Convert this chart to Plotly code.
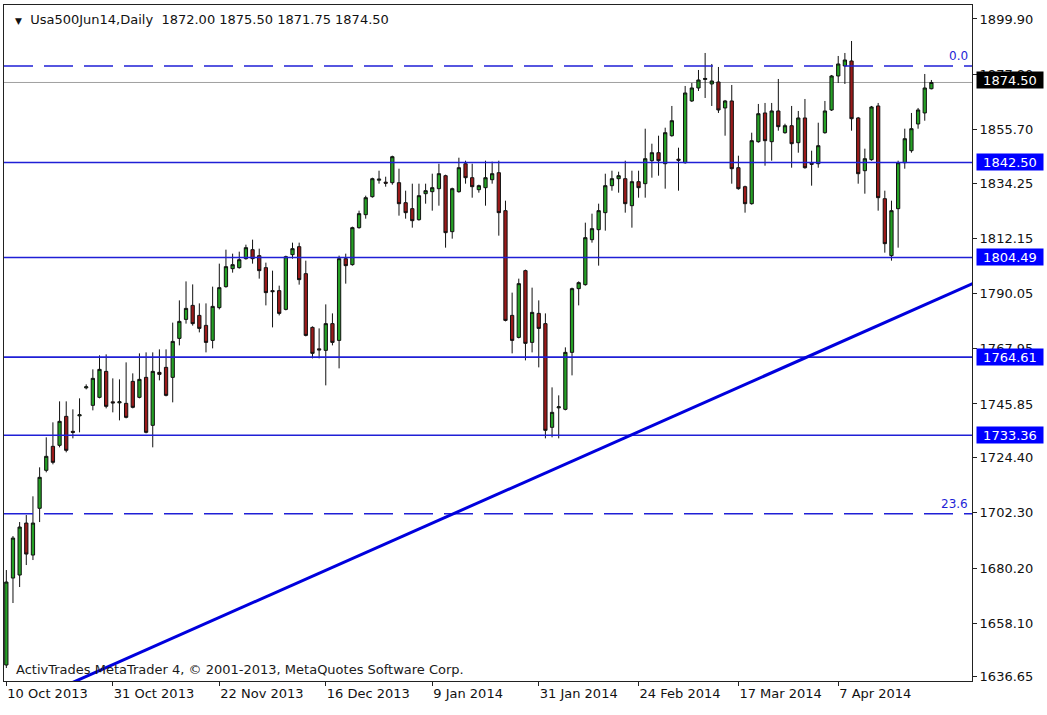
import plotly.graph_objects as go

# daily bars, Usa500Jun14 (index 0 = 10 Oct 2013)
opens = [1641.4, 1676.2, 1677.4, 1698.2, 1685.4, 1704.1, 1719.3, 1728.9, 1729.3, 1740.9,
         1734.9, 1741.1, 1752.3, 1745.3, 1748.5, 1758.9, 1746.7, 1746.3, 1746.1, 1754.9,
         1748.5, 1756.5, 1737.3, 1758.5, 1760.5, 1756.5, 1772.1, 1779.7, 1785.3, 1781.3,
         1777.3, 1771.3, 1784.4, 1792.8, 1800.0, 1800.4, 1804.0, 1807.6, 1805.2, 1800.4,
         1791.2, 1791.2, 1783.7, 1805.6, 1808.8, 1798.0, 1776.5, 1767.9, 1767.3, 1778.0,
         1771.3, 1804.0, 1801.6, 1816.4, 1821.6, 1828.8, 1835.4, 1834.6, 1834.4, 1834.4,
         1826.4, 1824.0, 1819.6, 1830.0, 1830.8, 1832.0, 1837.2, 1814.8, 1830.8, 1842.0,
         1836.4, 1831.6, 1832.4, 1835.6, 1838.4, 1823.2, 1781.3, 1772.5, 1799.2, 1770.5,
         1782.1, 1778.0, 1736.5, 1744.3, 1743.7, 1766.5, 1792.0, 1793.6, 1811.6, 1815.6,
         1822.4, 1833.2, 1836.0, 1836.0, 1825.2, 1834.8, 1834.0, 1843.2, 1846.4, 1842.0,
         1853.2, 1843.8, 1842.4, 1867.1, 1872.3, 1875.7, 1873.9, 1874.7, 1864.3, 1867.1,
         1840.4, 1832.8, 1826.0, 1850.8, 1862.3, 1850.8, 1863.1, 1854.4, 1857.2, 1850.4,
         1860.3, 1842.2, 1842.0, 1854.4, 1863.5, 1877.1, 1881.1, 1883.1, 1860.3, 1839.2,
         1843.6, 1865.1, 1828.0, 1805.2, 1824.0, 1842.4, 1847.2, 1857.9, 1862.3, 1872.00]
highs = [1679.4, 1693.0, 1698.6, 1701.4, 1708.9, 1720.5, 1732.5, 1738.5, 1746.9, 1746.9,
         1743.7, 1748.1, 1753.7, 1759.7, 1765.3, 1765.7, 1756.1, 1755.7, 1762.5, 1758.1,
         1766.1, 1766.5, 1766.5, 1767.7, 1767.7, 1778.4, 1787.3, 1794.9, 1793.7, 1786.1,
         1786.1, 1792.8, 1802.0, 1807.6, 1806.0, 1806.8, 1809.6, 1811.6, 1808.0, 1802.4,
         1799.2, 1793.2, 1805.2, 1810.4, 1810.4, 1803.2, 1776.9, 1776.1, 1785.7, 1782.1,
         1805.2, 1806.0, 1816.8, 1823.2, 1829.2, 1836.4, 1839.2, 1836.8, 1845.2, 1840.0,
         1831.2, 1834.0, 1834.0, 1834.0, 1838.0, 1842.0, 1837.6, 1832.4, 1844.4, 1843.2,
         1842.0, 1833.6, 1843.2, 1842.8, 1843.2, 1827.2, 1790.4, 1796.0, 1799.6, 1792.4,
         1787.3, 1782.1, 1752.5, 1749.3, 1768.5, 1792.4, 1794.9, 1818.4, 1822.0, 1826.0,
         1838.0, 1839.2, 1838.8, 1843.2, 1839.2, 1839.2, 1856.0, 1850.0, 1853.2, 1856.4,
         1865.1, 1848.4, 1873.1, 1874.3, 1879.5, 1886.3, 1881.9, 1880.7, 1867.5, 1873.5,
         1845.2, 1833.2, 1854.4, 1865.9, 1866.3, 1866.3, 1875.9, 1858.0, 1865.1, 1863.1,
         1867.9, 1847.2, 1858.4, 1867.1, 1877.5, 1885.1, 1886.3, 1891.1, 1860.7, 1848.0,
         1865.1, 1866.3, 1831.2, 1827.2, 1843.2, 1856.0, 1862.3, 1864.3, 1877.9, 1875.50]
lows = [1640.2, 1666.2, 1672.6, 1681.4, 1683.4, 1698.6, 1718.5, 1721.7, 1728.5, 1726.5,
        1732.1, 1734.5, 1751.7, 1743.3, 1748.1, 1744.1, 1742.5, 1739.3, 1740.1, 1744.1,
        1748.1, 1734.1, 1728.5, 1755.3, 1748.9, 1746.5, 1769.3, 1778.0, 1777.2, 1774.5,
        1766.5, 1768.1, 1783.7, 1792.4, 1798.4, 1800.0, 1803.6, 1802.0, 1796.0, 1785.3,
        1776.5, 1781.3, 1783.3, 1804.0, 1793.6, 1772.9, 1764.1, 1764.1, 1753.3, 1769.3,
        1760.1, 1794.0, 1801.2, 1816.0, 1820.0, 1828.4, 1834.0, 1832.8, 1833.6, 1821.2,
        1820.0, 1816.4, 1819.2, 1826.0, 1823.2, 1825.2, 1808.4, 1812.0, 1830.4, 1834.0,
        1828.4, 1830.4, 1825.2, 1834.0, 1813.2, 1778.9, 1766.1, 1772.1, 1763.3, 1766.5,
        1760.5, 1732.1, 1732.5, 1732.1, 1743.3, 1757.3, 1785.3, 1793.2, 1810.4, 1801.2,
        1815.2, 1831.2, 1830.4, 1822.4, 1816.4, 1828.4, 1828.4, 1836.4, 1837.2, 1832.0,
        1852.8, 1831.2, 1842.0, 1866.7, 1871.1, 1868.3, 1865.1, 1862.3, 1853.2, 1834.0,
        1831.6, 1822.4, 1825.6, 1850.4, 1841.2, 1843.2, 1855.2, 1854.0, 1840.4, 1846.4,
        1840.0, 1833.2, 1840.4, 1854.0, 1863.1, 1874.3, 1873.9, 1855.2, 1834.0, 1830.0,
        1843.2, 1823.2, 1806.4, 1803.2, 1808.4, 1840.0, 1846.4, 1856.0, 1859.2, 1871.75]
closes = [1674.6, 1692.2, 1696.6, 1685.8, 1698.2, 1716.5, 1724.9, 1722.5, 1738.9, 1727.3,
          1734.5, 1741.5, 1752.7, 1756.1, 1759.7, 1744.9, 1746.3, 1746.7, 1740.5, 1744.5,
          1755.7, 1734.5, 1758.9, 1757.7, 1749.3, 1770.9, 1778.9, 1784.1, 1778.0, 1776.1,
          1770.5, 1784.9, 1792.4, 1800.8, 1801.6, 1803.6, 1808.4, 1804.0, 1799.2, 1790.4,
          1790.8, 1782.1, 1804.8, 1808.0, 1795.6, 1773.3, 1766.1, 1767.5, 1778.0, 1770.5,
          1804.0, 1801.2, 1816.4, 1822.0, 1828.4, 1836.0, 1835.8, 1834.2, 1844.8, 1826.0,
          1822.4, 1819.2, 1829.2, 1831.2, 1832.4, 1838.0, 1814.4, 1832.0, 1840.4, 1836.4,
          1832.8, 1833.2, 1836.4, 1838.0, 1822.4, 1779.3, 1771.3, 1794.0, 1770.1, 1782.5,
          1776.1, 1735.3, 1742.5, 1744.7, 1766.5, 1792.0, 1794.4, 1812.4, 1816.0, 1823.2,
          1833.2, 1836.0, 1837.2, 1826.0, 1834.8, 1832.4, 1844.0, 1846.4, 1843.2, 1854.4,
          1859.2, 1843.4, 1870.3, 1872.3, 1875.5, 1876.1, 1875.1, 1863.5, 1867.1, 1840.0,
          1832.0, 1826.0, 1851.2, 1862.0, 1851.2, 1863.1, 1856.8, 1857.2, 1850.0, 1860.3,
          1840.4, 1841.8, 1849.2, 1863.1, 1877.1, 1881.9, 1883.5, 1860.0, 1838.0, 1844.0,
          1864.7, 1828.4, 1810.0, 1823.2, 1842.4, 1852.0, 1856.0, 1863.5, 1872.3, 1874.50]
bar_idx = list(range(len(opens)))

date_ticks = [0, 16, 32, 48, 64, 80, 95, 110, 125]
date_labels = ["10 Oct 2013", "31 Oct 2013", "22 Nov 2013", "16 Dec 2013", "9 Jan 2014",
               "31 Jan 2014", "24 Feb 2014", "17 Mar 2014", "7 Apr 2014"]
price_ticks = [1899.90, 1877.80, 1855.70, 1834.25, 1812.15, 1790.05, 1767.95,
               1745.85, 1724.40, 1702.30, 1680.20, 1658.10, 1636.65]

levels = [1842.50, 1804.49, 1764.61, 1733.36]
fib_levels = [1881.1, 1701.9]
fib_names = ["0.0", "23.6"]
last_price = 1874.50
trend_x = [9.69, 145.33]
trend_y = [1634.1, 1794.15]

FONT = "DejaVu Sans, Tahoma, sans-serif"
BLUE = "#1f1fd6"

fig = go.Figure(go.Candlestick(
    x=bar_idx, open=opens, high=highs, low=lows, close=closes,
    increasing=dict(fillcolor="#25a025", line=dict(color="#111111", width=1)),
    decreasing=dict(fillcolor="#9a1a1a", line=dict(color="#111111", width=1)),
    whiskerwidth=0, hoverinfo="skip",
))

shapes = []
for lv in levels:
    shapes.append(dict(type="line", xref="paper", x0=0, x1=1, yref="y", y0=lv, y1=lv,
                       line=dict(color=BLUE, width=1.6), layer="above"))
for lv in fib_levels:
    shapes.append(dict(type="line", xref="paper", x0=0, x1=1, yref="y", y0=lv, y1=lv,
                       line=dict(color=BLUE, width=1.6, dash="29px,11px"), layer="above"))
shapes.append(dict(type="line", xref="paper", x0=0, x1=1, yref="y", y0=last_price, y1=last_price,
                   line=dict(color="#a0a0a0", width=1), layer="below"))
shapes.append(dict(type="line", xref="x", yref="y", x0=trend_x[0], x1=trend_x[1],
                   y0=trend_y[0], y1=trend_y[1], line=dict(color="#0000dd", width=3), layer="above"))

ann = []
ann.append(dict(xref="paper", yref="paper", x=0, y=1, xanchor="left", yanchor="top",
                xshift=9, yshift=-5, showarrow=False,
                text='<span style="font-size:9px">▼</span>  Usa500Jun14,Daily  '
                     + " ".join(f"{v:.2f}" for v in (opens[-1], highs[-1], lows[-1], closes[-1])),
                font=dict(family=FONT, size=13, color="#111111")))
ann.append(dict(xref="paper", yref="paper", x=0, y=0, xanchor="left", yanchor="bottom",
                xshift=10, yshift=2, showarrow=False,
                text="ActivTrades MetaTrader 4, © 2001-2013, MetaQuotes Software Corp.",
                font=dict(family=FONT, size=13, color="#1a1a1a")))
for name, lv in zip(fib_names, fib_levels):
    ann.append(dict(xref="paper", yref="y", x=1, y=lv, xanchor="right", yanchor="bottom",
                    xshift=-2, yshift=1, showarrow=False, text=name,
                    font=dict(family=FONT, size=12, color=BLUE)))
for lv in levels:
    ann.append(dict(xref="paper", yref="y", x=1, y=lv, xanchor="left", yanchor="middle",
                    xshift=4, showarrow=False, text=f"{lv:.2f}", bgcolor="#0000ff",
                    width=66, height=16, borderpad=0,
                    font=dict(family=FONT, size=13, color="white")))
ann.append(dict(xref="paper", yref="y", x=1, y=last_price, xanchor="left", yanchor="middle",
                xshift=4, yshift=2, showarrow=False, text=f"{last_price:.2f}", bgcolor="#000000",
                width=66, height=16, borderpad=0,
                font=dict(family=FONT, size=13, color="white")))

fig.update_layout(
    width=1047, height=715,
    margin=dict(l=4, r=75, t=5, b=34),
    paper_bgcolor="white", plot_bgcolor="white",
    showlegend=False,
    shapes=shapes, annotations=ann,
    font=dict(family=FONT, size=13, color="#111111"),
    xaxis=dict(
        range=[-0.35, 145.1], rangeslider=dict(visible=False),
        tickmode="array", tickvals=date_ticks, ticktext=date_labels,
        ticks="outside", ticklen=4, tickcolor="#222", ticklabelposition="outside right",
        showline=True, mirror=True, linecolor="#222", linewidth=1,
        showgrid=False, zeroline=False,
        tickfont=dict(family=FONT, size=13, color="#111111"),
    ),
    yaxis=dict(
        side="right", range=[1635.0, 1905.5],
        tickmode="array", tickvals=price_ticks, ticktext=[f"{v:.2f}" for v in price_ticks],
        ticks="outside", ticklen=4, tickcolor="#222",
        showline=True, mirror=True, linecolor="#222", linewidth=1,
        showgrid=False, zeroline=False,
        tickfont=dict(family=FONT, size=13, color="#111111"),
    ),
)

# the page body has a default 8px margin; drop it so the chart sits at the window corner
fig.write_html("out.html", config={"displayModeBar": False},
               post_script="document.body.style.margin='0';")
